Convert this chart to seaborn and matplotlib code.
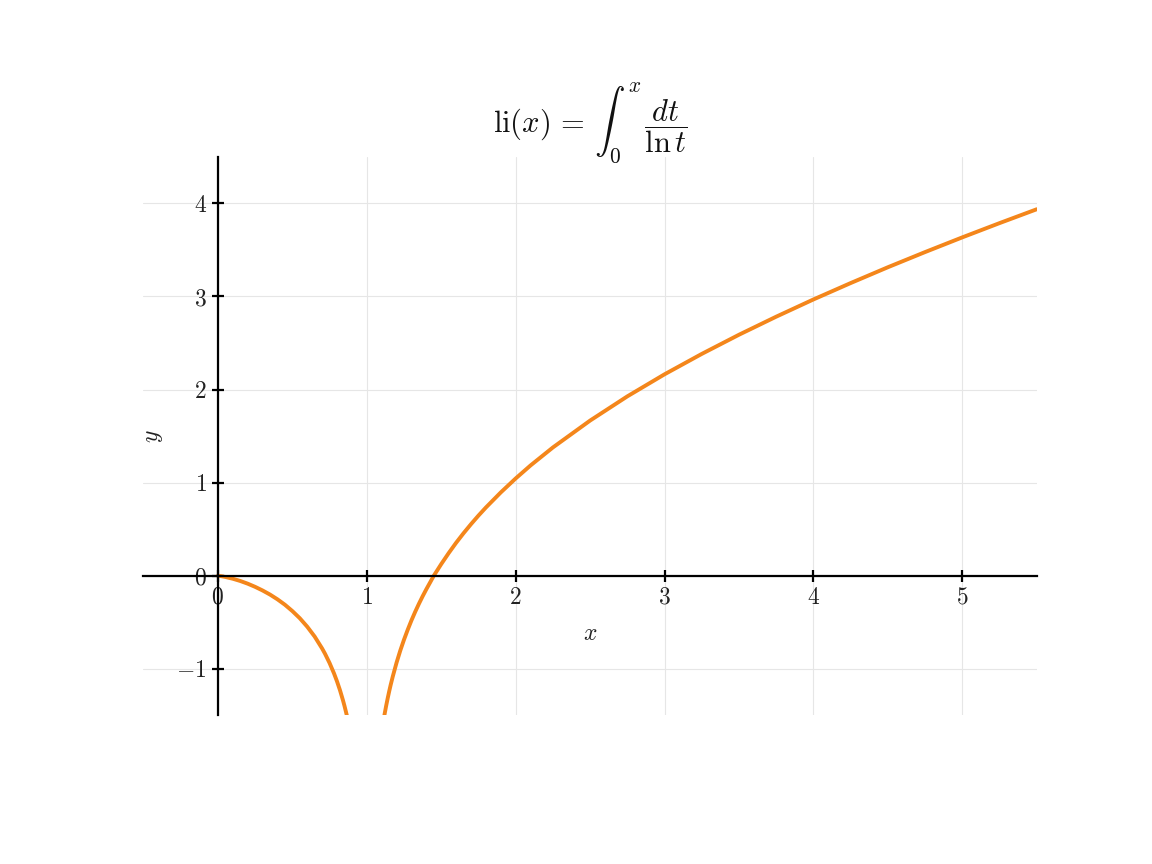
import numpy as np
import pandas as pd
import matplotlib
matplotlib.use("Agg")
import matplotlib.pyplot as plt
import seaborn as sns

# points, left branch (0 < x < 1)
x_left = [0.0, 0.02, 0.05, 0.1, 0.15, 0.2, 0.25, 0.3, 0.35, 0.4, 0.45, 0.5, 0.55, 0.6, 0.65, 0.7,
          0.72, 0.75, 0.78, 0.8, 0.82, 0.84, 0.85, 0.86, 0.866, 0.88]
y_left = [0.0, -0.004, -0.013, -0.032, -0.056, -0.085, -0.119, -0.158, -0.202, -0.253, -0.311, -0.379,
          -0.456, -0.547, -0.653, -0.781, -0.839, -0.937, -1.049, -1.134, -1.229, -1.337, -1.396,
          -1.460, -1.50, -1.603]

# right branch (x > 1)
x_right = [1.1, 1.12, 1.13, 1.14, 1.15, 1.16, 1.175, 1.2, 1.225, 1.25, 1.275, 1.3, 1.325, 1.35,
           1.375, 1.4, 1.425, 1.45, 1.5, 1.55, 1.6, 1.65, 1.7, 1.75, 1.8, 1.9, 2.0, 2.1, 2.25,
           2.5, 2.75, 3.0, 3.25, 3.5, 3.75, 4.0, 4.25, 4.5, 4.75, 5.0, 5.25, 5.5]
y_right = [-1.676, -1.484, -1.399, -1.320, -1.246, -1.176, -1.080, -0.934, -0.804, -0.687, -0.580,
           -0.480, -0.388, -0.302, -0.221, -0.145, -0.073, 0.0, 0.125, 0.243, 0.354, 0.457, 0.554,
           0.646, 0.733, 0.895, 1.045, 1.185, 1.378, 1.667, 1.927, 2.164, 2.383, 2.589, 2.783,
           2.968, 3.144, 3.314, 3.477, 3.635, 3.788, 3.937]

x_ticks = [0, 1, 2, 3, 4, 5]
y_ticks = [-1, 0, 1, 2, 3, 4]

sns.set_style("whitegrid")
plt.rcParams["font.family"] = ["serif"]
plt.rcParams["font.serif"] = ["cmr10", "DejaVu Serif"]
plt.rcParams["mathtext.fontset"] = "cm"
plt.rcParams["axes.formatter.use_mathtext"] = True

line_color = "#F4861B"

fig = plt.figure(figsize=(11.52, 8.64), dpi=100)
ax = fig.add_axes([0.1245, 0.172, 0.7755, 0.6465])

left = pd.DataFrame({"x": x_left, "y": y_left})
right = pd.DataFrame({"x": x_right, "y": y_right})
sns.lineplot(data=left, x="x", y="y", ax=ax, color=line_color, linewidth=2.8)
sns.lineplot(data=right, x="x", y="y", ax=ax, color=line_color, linewidth=2.8)

ax.set_xlim(-0.5, 5.5)
ax.set_ylim(-1.5, 4.5)

# axes through the origin
ax.spines["left"].set_position(("data", 0))
ax.spines["bottom"].set_position(("data", 0))
ax.spines["right"].set_visible(False)
ax.spines["top"].set_visible(False)
for s in ["left", "bottom"]:
    ax.spines[s].set_color("black")
    ax.spines[s].set_linewidth(1.6)

ax.set_xticks(x_ticks)
ax.set_yticks(y_ticks)
ax.set_xticklabels([f"${t}$" for t in x_ticks])
ax.set_yticklabels([f"${t}$" if t >= 0 else f"$-{abs(t)}$" for t in y_ticks])
ax.tick_params(bottom=True, left=True, direction="inout", length=8, width=1.6,
               color="black", labelcolor="#222222", labelsize=17, pad=4)
ax.grid(True, color="#e6e6e6", linewidth=0.8)

ax.set_xlabel("$x$", fontsize=17, color="#222222", labelpad=10)
ax.set_ylabel("$y$", fontsize=17, color="#222222", labelpad=8)
ax.set_title(r"$\mathrm{li}(x)\,=\,\int_0^x \, \dfrac{dt}{\ln t}$", fontsize=22, pad=18,
             color="#111111")

fig.savefig("out.png", dpi=100)
